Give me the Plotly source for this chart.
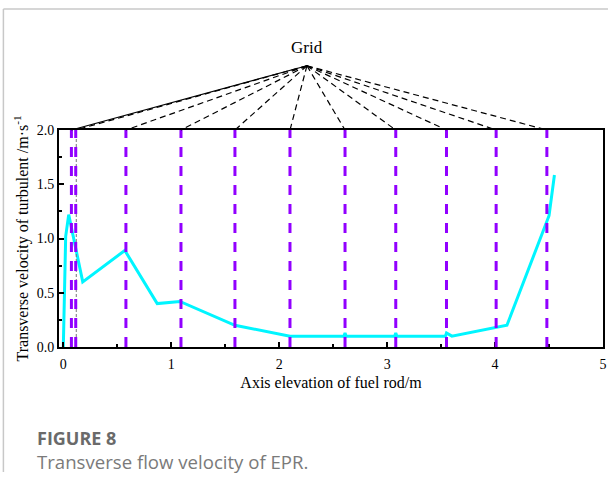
import plotly.graph_objects as go

# Transverse turbulent velocity along the fuel rod (EPR)
elev_m = [0.0, 0.022, 0.05, 0.18, 0.57, 0.87, 1.08, 1.59, 2.10, 2.60, 2.61, 2.62,
          3.07, 3.08, 3.09, 3.54, 3.55, 3.60, 4.11, 4.49, 4.50, 4.55]
velocity = [0.0, 1.02, 1.22, 0.60, 0.89, 0.40, 0.42, 0.20, 0.10, 0.10, 0.13, 0.10,
            0.10, 0.13, 0.10, 0.10, 0.13, 0.10, 0.20, 1.17, 1.21, 1.585]

# Spacer grid positions along the rod
grid_pos = [0.075, 0.115, 0.58, 1.09, 1.59, 2.10, 2.61, 3.08, 3.55, 4.01, 4.48]
ref_line_x = 0.12

x_ticks = [0, 1, 2, 3, 4, 5]
y_ticks = [0.0, 0.5, 1.0, 1.5, 2.0]

X_RANGE = [-0.04, 5.0]
Y_RANGE = [0.0, 2.0]
APEX_X, APEX_Y = 2.257, 1.296   # apex: data x, paper y

SERIF = "Liberation Serif"
PURPLE = "#9100FF"

ML, MR, MT, MB = 59, 5, 130, 135
W, H = 612, 482
PW, PH = W - ML - MR, H - MT - MB


def px_x(p):
    return (p - ML) / PW


def px_y(p):
    return (H - MB - p) / PH


fig = go.Figure()

fig.add_trace(go.Scatter(
    x=elev_m, y=velocity, mode="lines",
    line=dict(color="#00F5FF", width=3),
    showlegend=False, hoverinfo="skip",
))

shapes = []
# thin reference line
shapes.append(dict(type="line", xref="x", yref="y", x0=ref_line_x, x1=ref_line_x,
                   y0=Y_RANGE[0], y1=Y_RANGE[1],
                   line=dict(color="#777777", width=1, dash="3px,2px"), layer="above"))
# grid locations
for g in grid_pos:
    shapes.append(dict(type="line", xref="x", yref="y", x0=g, x1=g,
                       y0=Y_RANGE[0], y1=Y_RANGE[1],
                       line=dict(color=PURPLE, width=3, dash="10px,9px"), layer="above"))


def to_paper(xv):
    return (xv - X_RANGE[0]) / (X_RANGE[1] - X_RANGE[0])


# connectors from the "Grid" label to each grid location
for i, g in enumerate(grid_pos):
    shapes.append(dict(type="line", xref="paper", yref="paper",
                       x0=to_paper(APEX_X), y0=APEX_Y, x1=to_paper(g), y1=1.0,
                       line=dict(color="black", width=1.2,
                                 dash="solid" if i == 0 else "6px,4px")))

# card border
shapes.append(dict(type="line", xref="paper", yref="paper",
                   x0=px_x(3), x1=px_x(3), y0=px_y(9), y1=px_y(472),
                   line=dict(color="#c8c8c8", width=1.5)))
shapes.append(dict(type="line", xref="paper", yref="paper",
                   x0=px_x(3), x1=px_x(612), y0=px_y(9), y1=px_y(9),
                   line=dict(color="#c8c8c8", width=1.5)))

annotations = [
    dict(text="Grid", xref="paper", yref="paper", x=to_paper(APEX_X), y=1.382,
         showarrow=False, font=dict(family=SERIF, size=17, color="black"),
         xanchor="center", yanchor="middle"),
    dict(text="<b>FIGURE 8</b>", xref="paper", yref="paper",
         x=px_x(35), y=px_y(438), showarrow=False,
         xanchor="left", yanchor="middle",
         font=dict(family="Open Sans", size=18, color="#6a6a6a")),
    dict(text="Transverse flow velocity of EPR.", xref="paper", yref="paper",
         x=px_x(35), y=px_y(461), showarrow=False,
         xanchor="left", yanchor="middle",
         font=dict(family="Open Sans", size=18.6, color="#7a7a7a")),
]

axis_common = dict(
    showline=True, linecolor="black", linewidth=2, mirror=True,
    ticks="inside", ticklen=5, tickwidth=1.5, tickcolor="black",
    showgrid=False, zeroline=False,
    tickfont=dict(family=SERIF, size=14, color="black"),
)

fig.update_layout(
    width=W, height=H,
    margin=dict(l=ML, r=MR, t=MT, b=MB),
    paper_bgcolor="white", plot_bgcolor="white",
    shapes=shapes, annotations=annotations,
    xaxis=dict(range=X_RANGE, tickvals=x_ticks, ticklabelstandoff=3,
               minor=dict(tickvals=[0.5, 1.5, 2.5, 3.5, 4.5], ticks="inside",
                          ticklen=3, tickwidth=1.5, tickcolor="black"),
               title=dict(text="Axis elevation of fuel rod/m", standoff=6,
                          font=dict(family=SERIF, size=16, color="black")),
               **axis_common),
    yaxis=dict(range=Y_RANGE, tickvals=y_ticks, tickformat=".1f",
               minor=dict(tickvals=[0.25, 0.75, 1.25, 1.75], ticks="inside",
                          ticklen=3, tickwidth=1.5, tickcolor="black"),
               title=dict(text="Transverse velocity of turbulent /m·s<sup>-1</sup>",
                          standoff=4,
                          font=dict(family=SERIF, size=16, color="black")),
               **axis_common),
)

fig.write_html("out.html")
